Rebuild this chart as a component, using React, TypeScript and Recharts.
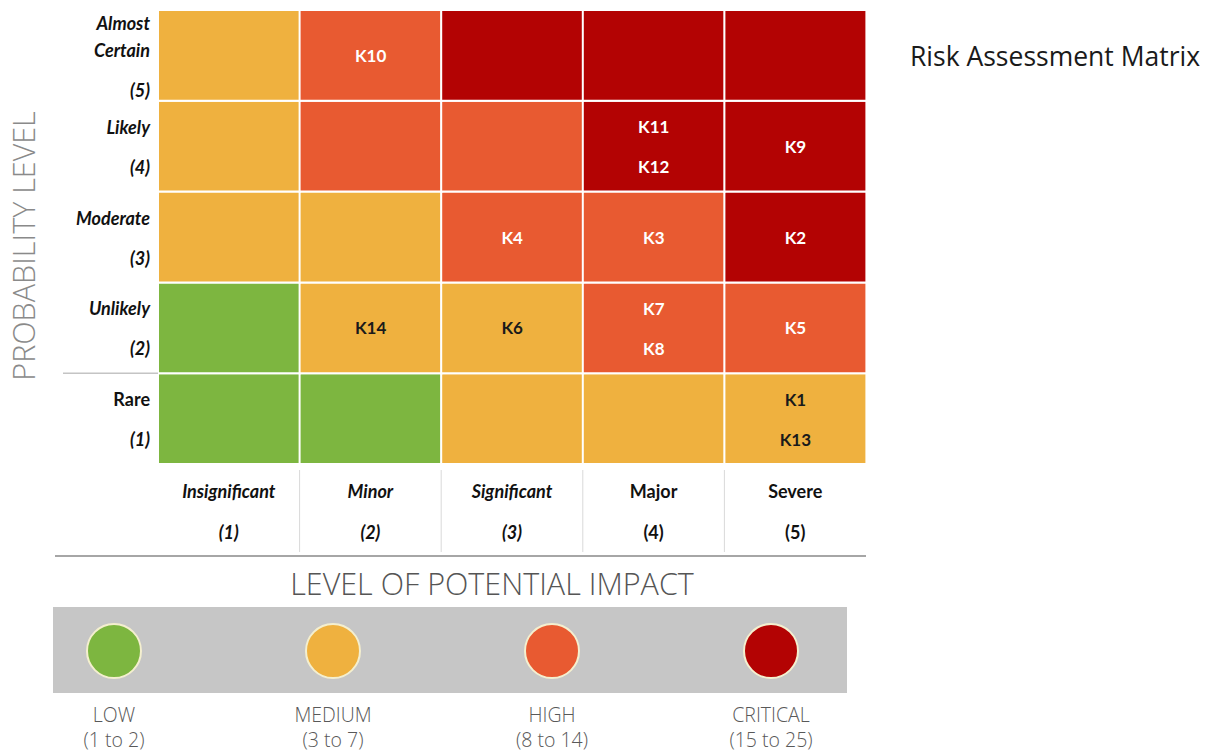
import React from 'react';
import { BarChart, Bar, XAxis, YAxis, Cell, LabelList } from 'recharts';

// ---------- data ----------
const impactCategories = ['Insignificant', 'Minor', 'Significant', 'Major', 'Severe'];
const impactScores = ['(1)', '(2)', '(3)', '(4)', '(5)'];
const probabilityCategories = ['Rare', 'Unlikely', 'Moderate', 'Likely', 'Almost Certain'];
const probabilityScores = ['(1)', '(2)', '(3)', '(4)', '(5)'];

// risk level of each cell, one array per probability row, columns follow impactCategories
const levelsRare = ['low', 'low', 'medium', 'medium', 'medium'];
const levelsUnlikely = ['low', 'medium', 'medium', 'high', 'high'];
const levelsModerate = ['medium', 'medium', 'high', 'high', 'critical'];
const levelsLikely = ['medium', 'high', 'high', 'critical', 'critical'];
const levelsAlmostCertain = ['medium', 'high', 'critical', 'critical', 'critical'];
const cellLevels = [levelsRare, levelsUnlikely, levelsModerate, levelsLikely, levelsAlmostCertain];

// each cell spans one unit of the probability scale
const cellSpan = 1;

// risks: id, impact score, probability score
const riskIds = ['K1', 'K2', 'K3', 'K4', 'K5', 'K6', 'K7', 'K8', 'K9', 'K10', 'K11', 'K12', 'K13', 'K14'];
const riskImpact = [5, 5, 4, 3, 5, 3, 4, 4, 5, 2, 4, 4, 5, 2];
const riskProbability = [1, 3, 3, 3, 2, 2, 2, 2, 4, 5, 4, 4, 1, 2];

// legend
const levelKeys = ['low', 'medium', 'high', 'critical'];
const levelNames = ['LOW', 'MEDIUM', 'HIGH', 'CRITICAL'];
const levelRanges = ['(1 to 2)', '(3 to 7)', '(8 to 14)', '(15 to 25)'];

// ---------- styles ----------
const levelColors: Record<string, string> = {
  low: '#7db640',
  medium: '#efb13f',
  high: '#e85a31',
  critical: '#b30303',
};
const levelTextColors: Record<string, string> = {
  low: '#1a1a1a',
  medium: '#1a1a1a',
  high: '#ffffff',
  critical: '#ffffff',
};
const uprightLabels = new Set(['Rare', 'Major', 'Severe']);
const labelFont = 'Lato, "Open Sans", sans-serif';
const lightFont = '"Open Sans", "Noto Sans", sans-serif';

const chartData = impactCategories.map((impact) => {
  const row: Record<string, string | number> = { impact };
  probabilityCategories.forEach((p) => {
    row[p] = cellSpan;
  });
  return row;
});

const risksInCell = (impactIndex: number, probIndex: number) =>
  riskIds.filter((_, k) => riskImpact[k] === impactIndex + 1 && riskProbability[k] === probIndex + 1);

const makeCellLabel = (probIndex: number) => (props: any) => {
  const vb = props.viewBox && props.viewBox.width !== undefined ? props.viewBox : props;
  const { x, y, width, height } = vb;
  const index = props.index;
  if (index === undefined || x === undefined) return null;
  const ids = risksInCell(index, probIndex);
  if (!ids.length) return null;
  const level = cellLevels[probIndex][index];
  const cx = x + width / 2;
  const cy = y + height / 2;
  const offsets = ids.length === 1 ? [0] : [-19.5, 20.5];
  return (
    <g>
      {ids.map((id, k) => (
        <text
          key={id}
          x={cx}
          y={cy + offsets[k]}
          textAnchor="middle"
          dominantBaseline="central"
          fill={levelTextColors[level]}
          fontFamily={labelFont}
          fontWeight={700}
          fontSize={17}
        >
          {id}
        </text>
      ))}
    </g>
  );
};

const ProbabilityTick = (props: any) => {
  const { x, y, payload, height, visibleTicksCount } = props;
  const pi = Math.floor(payload.value);
  const name = probabilityCategories[pi];
  const words = name.split(' ');
  const lines = [...words, probabilityScores[pi]];
  const offsets = lines.length === 3 ? [-32.5, -5.5, 34.5] : [-19.5, 20.5];
  const rowH = height / (visibleTicksCount || 5);
  return (
    <g>
      {lines.map((t, k) => (
        <text
          key={k}
          x={x}
          y={y + offsets[k]}
          textAnchor="end"
          dominantBaseline="central"
          fill="#111"
          fontFamily={labelFont}
          fontWeight={700}
          fontStyle={uprightLabels.has(name) && k === lines.length - 2 ? 'normal' : 'italic'}
          fontSize={18}
        >
          {t}
        </text>
      ))}
      {pi === 0 && (
        <line x1={x - 87} x2={x + 8} y1={y - rowH / 2} y2={y - rowH / 2} stroke="#c4c4c4" strokeWidth={1.5} />
      )}
    </g>
  );
};

const ImpactTick = (props: any) => {
  const { x, y, payload, index, width, visibleTicksCount } = props;
  const count = visibleTicksCount || impactCategories.length;
  const band = width / count;
  const ii = impactCategories.indexOf(payload.value);
  const name = payload.value;
  const upright = uprightLabels.has(name);
  return (
    <g>
      <text
        x={x}
        y={y + 27}
        textAnchor="middle"
        dominantBaseline="central"
        fill="#111"
        fontFamily={labelFont}
        fontWeight={700}
        fontStyle={upright ? 'normal' : 'italic'}
        fontSize={18}
      >
        {name}
      </text>
      <text
        x={x}
        y={y + 68}
        textAnchor="middle"
        dominantBaseline="central"
        fill="#111"
        fontFamily={labelFont}
        fontWeight={700}
        fontStyle={upright ? 'normal' : 'italic'}
        fontSize={18}
      >
        {impactScores[ii]}
      </text>
      {index < count - 1 && (
        <line x1={x + band / 2} x2={x + band / 2} y1={y + 6} y2={y + 88} stroke="#d9d9d9" strokeWidth={1} />
      )}
    </g>
  );
};

const ImpactTitle = (props: any) => {
  const vb = props.viewBox;
  if (!vb) return null;
  return (
    <g>
      <line
        x1={vb.x - 103}
        x2={vb.x + vb.width}
        y1={vb.y + vb.height + 2}
        y2={vb.y + vb.height + 2}
        stroke="#a6a6a6"
        strokeWidth={2}
      />
      <text
        x={vb.x + vb.width / 2 - 20}
        y={vb.y + 131}
        textAnchor="middle"
        fill="#555555"
        fontFamily={lightFont}
        fontWeight={300}
        fontSize={30.5}
      >
        LEVEL OF POTENTIAL IMPACT
      </text>
    </g>
  );
};

const ProbabilityTitle = (props: any) => {
  const vb = props.viewBox;
  if (!vb) return null;
  const cx = vb.x + 35;
  const cy = vb.y + vb.height / 2 + 9;
  return (
    <text
      transform={`translate(${cx},${cy}) rotate(-90)`}
      x={0}
      y={0}
      textAnchor="middle"
      fill="#8a8a8a"
      fontFamily={lightFont}
      fontWeight={300}
      fontSize={30.5}
    >
      PROBABILITY LEVEL
    </text>
  );
};

export default function App() {
  return (
    <div
      style={{
        position: 'absolute',
        left: 0,
        top: 0,
        width: 1216,
        height: 755,
        background: '#ffffff',
        overflow: 'hidden',
      }}
    >
      <BarChart
        width={1216}
        height={755}
        data={chartData}
        margin={{ top: 10, right: 350, bottom: 201, left: 0 }}
        barCategoryGap={0}
        barGap={0}
      >
        <XAxis
          dataKey="impact"
          height={90}
          axisLine={false}
          tickLine={false}
          tickSize={0}
          tickMargin={0}
          tick={<ImpactTick />}
          interval={0}
          label={ImpactTitle}
        />
        <YAxis
          type="number"
          domain={[0, 5]}
          ticks={[0.5, 1.5, 2.5, 3.5, 4.5]}
          width={158}
          axisLine={false}
          tickLine={false}
          tickSize={0}
          tickMargin={8}
          tick={<ProbabilityTick />}
          interval={0}
          label={ProbabilityTitle}
        />
        {probabilityCategories.map((p, pi) => (
          <Bar
            key={p}
            dataKey={p}
            stackId="matrix"
            isAnimationActive={false}
            stroke="#ffffff"
            strokeWidth={2}
          >
            {impactCategories.map((c, ii) => (
              <Cell key={c} fill={levelColors[cellLevels[pi][ii]]} />
            ))}
            <LabelList dataKey={p} content={makeCellLabel(pi)} />
          </Bar>
        ))}
      </BarChart>

      <div
        style={{
          position: 'absolute',
          left: 910,
          top: 40,
          fontFamily: lightFont,
          fontSize: 26.5,
          color: '#1a1a1a',
          whiteSpace: 'nowrap',
          lineHeight: '32px',
        }}
      >
        Risk Assessment Matrix
      </div>

      <div
        style={{
          position: 'absolute',
          left: 53,
          top: 607,
          width: 794,
          height: 86,
          background: '#c6c6c6',
        }}
      />
      {levelKeys.map((k, i) => {
        const cx = 114 + i * 219;
        return (
          <React.Fragment key={k}>
            <div
              style={{
                position: 'absolute',
                left: cx - 28,
                top: 623,
                width: 52,
                height: 52,
                borderRadius: '50%',
                background: levelColors[k],
                border: '2px solid #f4efcf',
              }}
            />
            <div
              style={{
                position: 'absolute',
                left: cx - 80,
                top: 702,
                width: 160,
                textAlign: 'center',
                fontFamily: lightFont,
                fontWeight: 300,
                fontSize: 19.5,
                lineHeight: '25px',
                color: '#595959',
              }}
            >
              <div>{levelNames[i]}</div>
              <div>{levelRanges[i]}</div>
            </div>
          </React.Fragment>
        );
      })}
    </div>
  );
}
